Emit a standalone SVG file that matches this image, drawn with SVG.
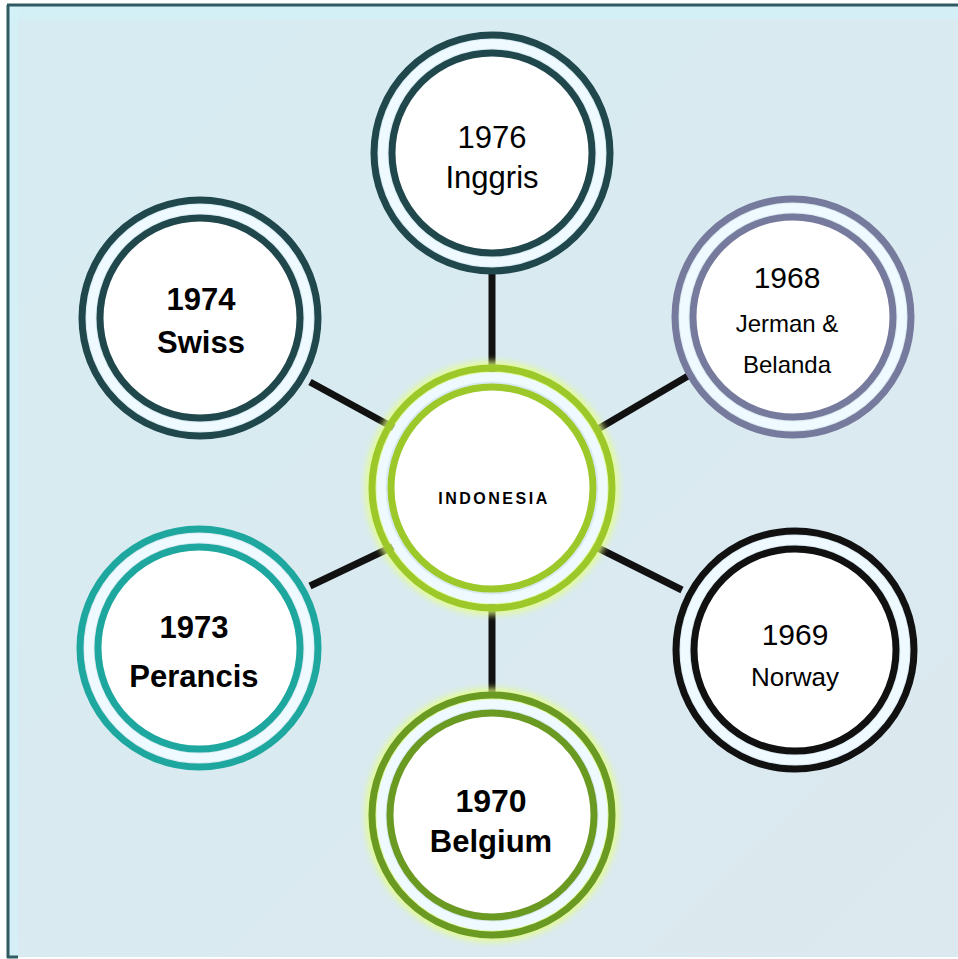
<svg xmlns="http://www.w3.org/2000/svg" width="958" height="959" viewBox="0 0 958 959">
<defs>
<linearGradient id="bg" x1="0" y1="0" x2="1" y2="1">
<stop offset="0" stop-color="#d6ecf2"/>
<stop offset="1" stop-color="#dce9ef"/>
</linearGradient>
<filter id="glow" x="-20%" y="-20%" width="140%" height="140%">
<feGaussianBlur stdDeviation="3"/>
</filter>
</defs>
<style>
.outer{fill:none;stroke-width:7}
.inner{stroke-width:7}
.gap{fill:none;stroke:#eefaff;stroke-width:9}
.conn{stroke:#111;stroke-width:7;stroke-linecap:butt}
.t{font-family:"Liberation Sans",Arial,sans-serif;text-anchor:middle;fill:#000}
.b{font-weight:bold}
</style>
<rect x="0" y="0" width="958" height="959" fill="#ffffff"/>
<rect x="8" y="5" width="950" height="952" fill="url(#bg)"/>
<rect x="10" y="7" width="948" height="12" fill="#d2f2f8" opacity="0.7"/>
<rect x="10" y="7" width="8" height="949" fill="#d2f2f8" opacity="0.7"/>
<line x1="7" y1="5" x2="958" y2="5" stroke="#2f5b63" stroke-width="3"/>
<line x1="8" y1="5" x2="8" y2="958" stroke="#2f5b63" stroke-width="3"/>
<line x1="7" y1="957" x2="18" y2="957" stroke="#2f5b63" stroke-width="3"/>

<g id="connectors">
<line class="conn" x1="492" y1="272" x2="492" y2="372"/>
<line class="conn" x1="492" y1="604" x2="492" y2="696"/>
<line class="conn" x1="310" y1="382" x2="396" y2="429"/>
<line class="conn" x1="688" y1="376" x2="598" y2="429"/>
<line class="conn" x1="310" y1="586" x2="394" y2="546"/>
<line class="conn" x1="682" y1="590" x2="598" y2="548"/>
</g>

<g id="n-indonesia">
<circle cx="492" cy="488" r="120" fill="none" stroke="#e6ff80" stroke-width="14" filter="url(#glow)" opacity="0.8"/>
<circle cx="492" cy="488" r="120" class="outer" stroke="#9cc82a"/>
<circle cx="492" cy="488" r="111" class="gap" stroke="#f0ffc0"/>
<circle cx="492" cy="488" r="101" class="inner" fill="#ffffff" stroke="#9cc82a"/>
<text class="t b" x="494" y="504" font-size="16" letter-spacing="2.5">INDONESIA</text>
</g>

<g id="n-inggris">
<circle cx="492" cy="153" r="118" class="outer" stroke="#1f474c"/>
<circle cx="492" cy="153" r="109" class="gap"/>
<circle cx="492" cy="153" r="100" class="inner" fill="#ffffff" stroke="#1f474c"/>
<text class="t" x="492" y="148" font-size="31">1976</text>
<text class="t" x="492" y="188" font-size="31">Inggris</text>
</g>

<g id="n-swiss">
<circle cx="200" cy="318" r="118" class="outer" stroke="#1f474c"/>
<circle cx="200" cy="318" r="109" class="gap"/>
<circle cx="200" cy="318" r="100" class="inner" fill="#ffffff" stroke="#1f474c"/>
<text class="t b" x="201" y="310" font-size="31">1974</text>
<text class="t b" x="201" y="353" font-size="31">Swiss</text>
</g>

<g id="n-jerman">
<circle cx="793" cy="317" r="118" class="outer" stroke="#767a9c"/>
<circle cx="793" cy="317" r="109" class="gap"/>
<circle cx="793" cy="317" r="100" class="inner" fill="#ffffff" stroke="#767a9c"/>
<text class="t" x="787" y="288" font-size="30">1968</text>
<text class="t" x="787" y="332" font-size="24">Jerman &amp;</text>
<text class="t" x="787" y="373" font-size="24">Belanda</text>
</g>

<g id="n-perancis">
<circle cx="199" cy="648" r="119" class="outer" stroke="#1ea79f"/>
<circle cx="199" cy="648" r="110" class="gap" stroke="#e4fffe"/>
<circle cx="199" cy="648" r="101" class="inner" fill="#ffffff" stroke="#1ea79f"/>
<text class="t b" x="194" y="638" font-size="31">1973</text>
<text class="t b" x="194" y="687" font-size="31">Perancis</text>
</g>

<g id="n-norway">
<circle cx="795" cy="650" r="119" class="outer" stroke="#111111"/>
<circle cx="795" cy="650" r="110" class="gap" stroke="#ffffff"/>
<circle cx="795" cy="650" r="101" class="inner" fill="#ffffff" stroke="#111111"/>
<text class="t" x="795" y="645" font-size="30">1969</text>
<text class="t" x="795" y="686" font-size="26">Norway</text>
</g>

<g id="n-belgium">
<circle cx="492" cy="815" r="120" fill="none" stroke="#e6ff80" stroke-width="14" filter="url(#glow)" opacity="0.8"/>
<circle cx="492" cy="815" r="120" class="outer" stroke="#6a9a22"/>
<circle cx="492" cy="815" r="111" class="gap" stroke="#eeff9a"/>
<circle cx="492" cy="815" r="102" class="inner" fill="#ffffff" stroke="#6a9a22"/>
<text class="t b" x="491" y="812" font-size="32">1970</text>
<text class="t b" x="491" y="852" font-size="31">Belgium</text>
</g>
</svg>
